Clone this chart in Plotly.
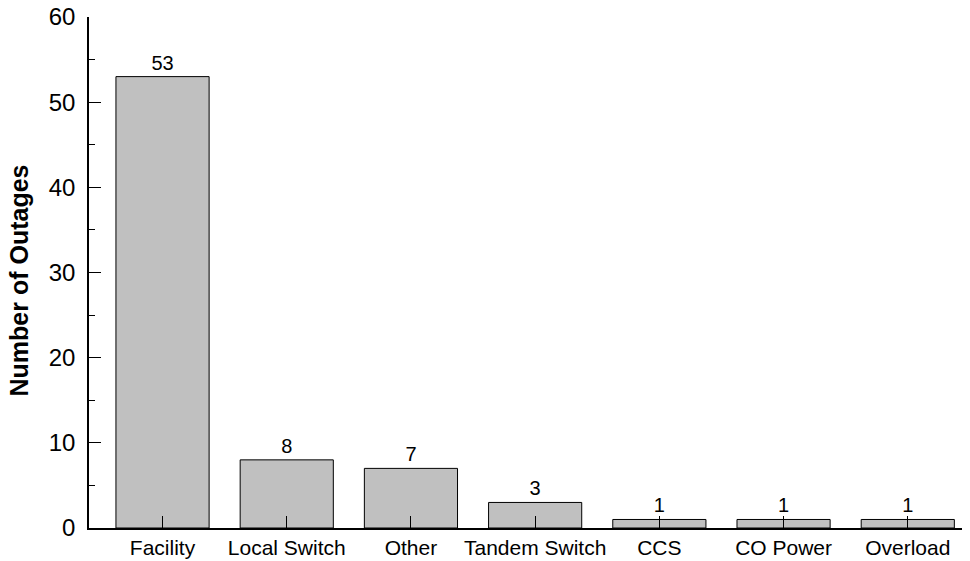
import plotly.graph_objects as go

categories = ["Facility", "Local Switch", "Other", "Tandem Switch", "CCS", "CO Power", "Overload"]
outages = [53, 8, 7, 3, 1, 1, 1]
y_ticks = [0, 10, 20, 30, 40, 50, 60]
y_title = "Number of Outages"

FONT = "Arial, 'Liberation Sans', sans-serif"

# page body has an 8px margin, so the figure is sized to fill the 970x561 window from (8, 8)
fig = go.Figure(
    go.Bar(
        x=categories,
        y=outages,
        text=[str(v) for v in outages],
        textposition="outside",
        textfont=dict(family=FONT, size=20, color="black"),
        cliponaxis=False,
        marker=dict(color="#c0c0c0", line=dict(color="black", width=1)),
        width=0.75,
    )
)

fig.update_layout(
    width=962,
    height=553,
    margin=dict(l=81, r=0, t=9, b=33, autoexpand=False),
    paper_bgcolor="white",
    plot_bgcolor="white",
    showlegend=False,
    font=dict(family=FONT, color="black"),
)

fig.update_xaxes(
    type="category",
    range=[-0.592, 6.501],
    showline=True,
    linecolor="black",
    linewidth=1.5,
    ticks="inside",
    ticklen=12,
    tickcolor="black",
    tickwidth=1,
    tickfont=dict(family=FONT, size=21, color="black"),
    ticklabeloverflow="allow",
    showgrid=False,
    zeroline=False,
    automargin=False,
)

fig.update_yaxes(
    range=[0, 60],
    tickvals=y_ticks,
    showline=True,
    linecolor="black",
    linewidth=1.5,
    ticks="inside",
    ticklen=12,
    tickcolor="black",
    tickwidth=1,
    minor=dict(dtick=5, ticks="inside", ticklen=6, tickcolor="black", tickwidth=1, showgrid=False),
    tickfont=dict(family=FONT, size=24, color="black"),
    ticklabelstandoff=7,
    ticklabeloverflow="allow",
    showgrid=False,
    zeroline=False,
    automargin=False,
)

fig.add_annotation(
    text="<b>" + y_title + "</b>",
    xref="paper", yref="paper",
    x=0, y=0.5,
    xanchor="center", yanchor="middle",
    xshift=-71,
    yshift=-8,
    textangle=-90,
    showarrow=False,
    font=dict(family=FONT, size=25, color="black"),
)

fig.write_html("out.html")
